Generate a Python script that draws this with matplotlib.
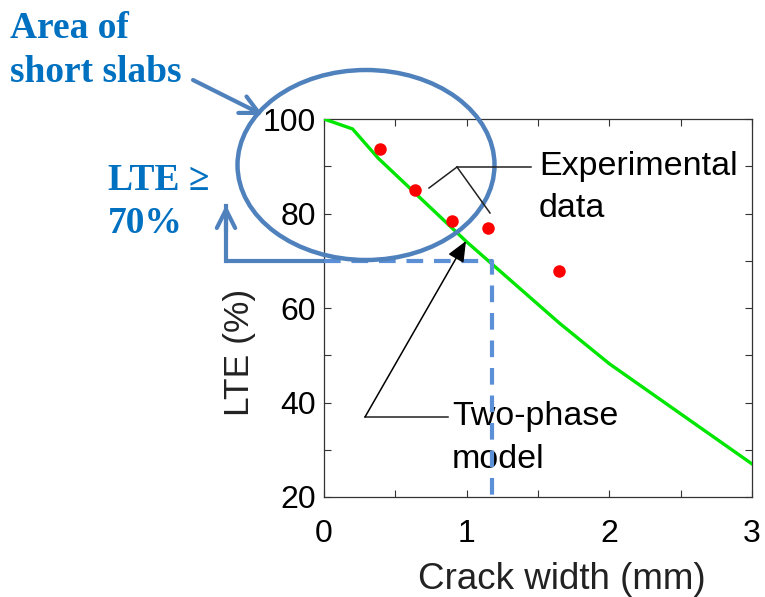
import matplotlib
matplotlib.use("Agg")
import matplotlib.pyplot as plt
from matplotlib.patches import Ellipse, FancyArrowPatch
from matplotlib.lines import Line2D
from matplotlib import transforms

# Two-phase model prediction of LTE versus crack width
model_crack = [0.0, 0.2, 0.38, 1.0, 1.65, 2.0, 3.0]
model_lte = [100.0, 97.9, 91.7, 74.0, 56.8, 48.2, 27.0]

# Experimental measurements
exp_crack = [0.39, 0.64, 0.90, 1.15, 1.65]
exp_lte = [93.7, 85.0, 78.4, 76.9, 67.9]

# Design threshold
lte_limit = 70
crack_limit = 1.18

x_ticks = [0, 1, 2, 3]
x_minor = [0.5, 1.5, 2.5]
y_ticks = [20, 40, 60, 80, 100]
y_minor = [30, 50, 70, 90]

W, H = 765, 597
SANS = ["Liberation Sans", "DejaVu Sans"]
SERIF = ["Liberation Serif", "DejaVu Serif"]
BLUE_TXT = "#0070C0"
BLUE_LN = "#4F81BD"
BLUE_DASH = "#5B8FD6"

fig = plt.figure(figsize=(W / 100, H / 100), dpi=100)


def fpx(x, y):
    """Figure pixel position (top-left origin) -> figure fraction."""
    return (x / W, 1 - y / H)


ax = fig.add_axes([324 / W, 1 - 497 / H, 428 / W, 378 / H])
ax.set_xlim(0, 3)
ax.set_ylim(20, 100)

ax.plot(model_crack, model_lte, color="#00e600", lw=2.4, zorder=3)
ax.plot(exp_crack, exp_lte, "o", color="red", ms=9, mec="none", zorder=4)

# threshold box (dashed)
ax.plot([0, crack_limit, crack_limit], [lte_limit, lte_limit, 20],
        color=BLUE_DASH, lw=3, dashes=(4.0, 2.6), clip_on=False, zorder=5)

ax.set_xticks(x_ticks)
ax.set_xticks(x_minor, minor=True)
ax.set_yticks(y_ticks)
ax.set_yticks(y_minor, minor=True)
ax.tick_params(which="both", direction="in", top=True, right=True,
               length=5, width=0.8, color="#333333")
ax.tick_params(axis="x", which="major", pad=16)
ax.tick_params(axis="y", which="major", pad=6)
for lab in ax.get_xticklabels() + ax.get_yticklabels():
    lab.set_fontfamily(SANS)
    lab.set_fontsize(23)
for sp in ax.spines.values():
    sp.set_color("#333333")
    sp.set_linewidth(0.9)

ax.set_xlabel("Crack width (mm)", fontsize=26.5, family=SANS, color="#222222")
ax.xaxis.set_label_coords(0.556, -0.172)
ax.set_ylabel("LTE (%)", fontsize=25.5, family=SANS, color="#222222")
ax.yaxis.set_label_coords(-0.159, 0.382)

# solid bracket leading out of the threshold line, with arrow upward
blend = transforms.blended_transform_factory(ax.transAxes, ax.transData)
bx = (226 - 324) / 428
ax.plot([0, bx], [lte_limit, lte_limit], color=BLUE_LN, lw=3,
        transform=blend, clip_on=False, solid_capstyle="butt")
ax.plot([bx, bx], [lte_limit, 81.5], color=BLUE_LN, lw=3,
        transform=blend, clip_on=False, solid_capstyle="projecting")
ax.annotate("", xy=(bx, 81.8), xycoords=blend,
            xytext=(bx, 76), textcoords=blend,
            arrowprops=dict(arrowstyle="->,head_length=0.6,head_width=0.3",
                            mutation_scale=22, color=BLUE_LN, lw=3,
                            shrinkA=0, shrinkB=0))

# highlighted region
ell = Ellipse(fpx(366, 165), 257 / W, 190 / H, transform=fig.transFigure,
              fill=False, edgecolor=BLUE_LN, lw=3.2, zorder=6)
fig.add_artist(ell)

fig.add_artist(FancyArrowPatch(
    fpx(193, 80), fpx(263, 115), transform=fig.transFigure,
    arrowstyle="->,head_length=0.6,head_width=0.3", mutation_scale=22,
    color=BLUE_LN, lw=3, shrinkA=0, shrinkB=0, zorder=6))


# callout leaders
def seg(p, q, **kw):
    (x0, y0), (x1, y1) = fpx(*p), fpx(*q)
    fig.add_artist(Line2D([x0, x1], [y0, y1], transform=fig.transFigure, **kw))


kw = dict(color="#222222", lw=1.1, zorder=7)
seg((457, 167), (531, 167), **kw)
seg((457, 167), (429, 188), **kw)
seg((457, 167), (490, 213), **kw)
seg((365, 417), (448, 417), **kw)
fig.add_artist(FancyArrowPatch(
    fpx(365, 417), fpx(466, 241), transform=fig.transFigure,
    arrowstyle="-|>,head_length=0.7,head_width=0.3", mutation_scale=18,
    color="black", lw=1.1, shrinkA=0, shrinkB=0, zorder=7))

# callout text (kept beneath the dashed threshold line)
ctxt = dict(fontsize=24.5, family=SANS, va="baseline",
            transform=fig.transFigure, clip_on=False, zorder=2)
ax.text(*fpx(539, 175), "Experimental", **ctxt)
ax.text(*fpx(539, 217), "data", **ctxt)
ax.text(*fpx(452, 425), "Two-phase", **ctxt)
ax.text(*fpx(452, 468), "model", **ctxt)

btxt = dict(fontsize=27, family=SERIF, weight="bold", color=BLUE_TXT, va="baseline")
fig.text(*fpx(10, 38), "Area of", **btxt)
fig.text(*fpx(10, 82), "short slabs", **btxt)
fig.text(*fpx(108, 190), "LTE \u2265", **btxt)
fig.text(*fpx(108, 233), "70%", **btxt)

fig.savefig("out.png", dpi=100)
